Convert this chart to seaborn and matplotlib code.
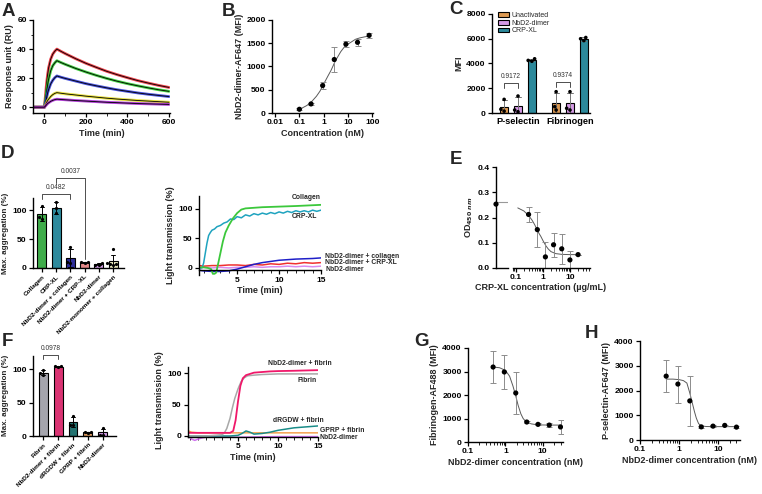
import numpy as np
import pandas as pd
import matplotlib
matplotlib.use('Agg')
import matplotlib.pyplot as plt
import seaborn as sns
from matplotlib.ticker import LogLocator, NullFormatter, MultipleLocator

# ---------------- DATA ----------------
# A: SPR sensorgrams
t_spr = [-55, -20, 0, 5, 10, 15, 20, 30, 40, 50, 60, 80, 100, 150, 200, 250, 300, 350, 400, 450, 500, 550, 600]
spr_red = [0, 0, 0, 8, 16, 22, 27, 33, 36.5, 38.5, 40, 38.4, 36.9, 33.4, 30.2, 27.4, 24.7, 22.4, 20.3, 18.3, 16.6, 15.0, 13.6]
spr_green = [0, 0, 0, 5, 10, 15, 19, 25, 28.5, 30.5, 32, 30.7, 29.5, 26.7, 24.2, 21.9, 19.8, 17.9, 16.2, 14.7, 13.3, 12.0, 10.9]
spr_blue = [0, 0, 0, 3, 6, 9.5, 12, 16, 18.5, 20.3, 21.5, 20.6, 19.8, 18.0, 16.2, 14.7, 13.3, 12.0, 10.9, 9.8, 8.9, 8.1, 7.3]
spr_yellow = [0, 0, 0, 1.5, 3, 4.5, 5.5, 7.3, 8.6, 9.5, 10, 9.6, 9.2, 8.4, 7.6, 6.9, 6.2, 5.6, 5.1, 4.6, 4.2, 3.8, 3.4]
spr_purple = [0, 0, 0, 0.8, 1.6, 2.4, 3, 4, 4.7, 5.2, 5.5, 5.3, 5.1, 4.6, 4.2, 3.8, 3.4, 3.1, 2.8, 2.5, 2.3, 2.1, 1.9]
spr_colors = ['#E8202A', '#22C822', '#2A35D8', '#E2DA1E', '#A51FD0']

# B: binding curve
b_conc = [0.1, 0.3, 0.9, 2.7, 8.1, 24.3, 72.9]
b_mfi = [80, 195, 590, 1150, 1480, 1520, 1670]
b_sd = [20, 20, 70, 260, 60, 70, 50]
b_fit_x = [0.1, 0.2, 0.3, 0.5, 0.7, 1, 1.5, 2, 3, 5, 7, 10, 20, 30, 50, 80]
b_fit_y = [76, 160, 230, 360, 470, 627, 800, 920, 1122, 1320, 1420, 1483, 1585, 1615, 1640, 1655]

# C: grouped bars (MFI)
c_markers = ['P-selectin', 'Fibrinogen']
c_conds = ['Unactivated', 'NbD2-dimer', 'CRP-XL']
c_colors = ['#F39A3B', '#DB8CF2', '#1996AE']
c_psel_unact = [1100, 300, 150]
c_psel_dimer = [1370, 240, 100]
c_psel_crp = [4380, 4250, 4180]
c_fib_unact = [1720, 510, 240]
c_fib_dimer = [1720, 380, 240]
c_fib_crp = [6100, 6000, 5850]
c_pvals = ['0.9172', '0.9374']
c_brk_y = [2400, 2530]

# D: aggregation bars
d_conds = ['Collagen', 'CRP-XL', 'NbD2-dimer + collagen', 'NbD2-dimer + CRP-XL', 'NbD2-dimer', 'NbD2-monomer + collagen']
d_colors = ['#2DBE3C', '#1A97B0', '#1C1CA8', '#F07878', '#D890F0', '#F2F0B8']
d_reps = [[107, 88, 85], [114, 103, 94], [36, 10, 8], [11, 9, 10], [9, 6, 6], [32, 8, 7, 6, 7]]
d_pairs = [(0, 2, 127, 119, 119, '0.0482'), (1, 3, 155, 146, 15, '0.0037')]

# D: aggregation traces
dt_green_t = [0.5, 1.0, 1.5, 1.9, 2.1, 2.3, 2.5, 2.7, 3.0, 3.3, 3.6, 4.0, 4.5, 5.0, 5.5, 6.0, 7.0, 8.0, 10, 12, 15]
dt_green = [1, 1, 0, -2, -10, -10, -8, 5, 25, 45, 60, 72, 84, 93, 99, 101, 102, 103, 104, 105, 107]
dt_teal_t = [0.5, 0.8, 1.0, 1.2, 1.4, 1.6, 1.8, 2.0, 2.3, 2.6, 3.0, 3.4, 3.8, 4.2, 4.6, 5.0, 5.5, 6.0, 6.5, 7.0, 7.5, 8.0, 8.5, 9.0, 9.5, 10, 10.5, 11, 11.5, 12, 12.5, 13, 13.5, 14, 14.5, 15]
dt_teal = [0, 0, 8, 25, 42, 55, 60, 64, 66, 70, 72, 76, 78, 83, 82, 87, 85, 90, 88, 92, 90, 93, 91, 94, 92, 95, 93, 96, 94, 97, 95, 97, 95, 98, 96, 98]
dt_t = [0.5, 1, 2, 3, 4, 5, 6, 7, 8, 9, 10, 11, 12, 13, 14, 15]
dt_blue = [-4, -5, -6, -6, -5, -2, 2, 6, 9, 11, 13, 14, 15, 15.5, 16, 17]
dt_red = [4, 3, 4, 4, 5, 5, 4, 6, 5, 7, 6, 8, 7, 9, 8, 9]
dt_violet = [0, 1, 0, 1, 0, 1, 1, 2, 1, 2, 2, 3, 2, 3, 2, 3]
dt_labels = ['Collagen', 'CRP-XL', 'NbD2-dimer + collagen', 'NbD2-dimer + CRP-XL', 'NbD2-dimer']
dt_lab_x = [11.5, 11.5, 15.5, 15.5, 15.5]
dt_lab_y = [119, 87, 20, 10, -2]

# E: inhibition ELISA
e_zero = 0.253
e_top = 0.26
e_conc = [0.3, 0.63, 1.25, 2.5, 5, 10, 20]
e_od = [0.212, 0.152, 0.044, 0.092, 0.076, 0.032, 0.053]
e_sd = [0.03, 0.07, 0.06, 0.047, 0.06, 0.037, 0.0]
e_fit_x = [0.12, 0.2, 0.3, 0.4, 0.5, 0.6, 0.7, 0.85, 1.0, 1.3, 1.6, 2.0, 3.0, 5, 10, 20]
e_fit_y = [0.238, 0.226, 0.208, 0.19, 0.172, 0.155, 0.14, 0.125, 0.11, 0.088, 0.075, 0.065, 0.057, 0.054, 0.053, 0.053]

# F: aggregation bars
f_conds = ['Fibrin', 'NbD2-dimer + fibrin', 'dRGDW + fibrin', 'GPRP + fibrin', 'NbD2-dimer']
f_colors = ['#A4A4AE', '#F5196C', '#17807E', '#F49A4A', '#D98BF0']
f_reps = [[98, 94, 91], [104, 103, 104], [30, 17, 16], [6, 4, 6], [12, 2, 2]]
f_pairs = [(0, 1, 121, 115, 115, '0.0978')]

# F: aggregation traces
ft_gray_t = [-1.2, 0, 1, 2, 3, 3.3, 3.6, 4.0, 4.3, 4.6, 5.0, 5.4, 5.8, 6.2, 7, 8, 10, 12, 15]
ft_gray = [0, 0, 0, 1, 2, 5, 12, 28, 45, 60, 75, 87, 93, 96, 97, 98, 99, 99, 99]
ft_pink_t = [-1.2, 0, 2, 4, 4.4, 4.7, 5.0, 5.3, 5.6, 6.0, 6.5, 7, 8, 9, 10, 12, 15]
ft_pink = [5, 5, 5, 5, 8, 25, 55, 80, 92, 97, 99, 101, 102, 103, 103.5, 104, 105]
ft_teal_t = [-1.2, 0, 2, 4, 5, 5.5, 6, 6.5, 7, 8, 9, 10, 11, 12, 13, 14, 15]
ft_teal = [0, 0, 0, 0, 1, 4, 8, 6, 3, 4, 6, 9, 11, 13, 14, 15, 16]
ft_orange_t = [-1.2, -0.8, 0, 2, 5, 10, 15]
ft_orange = [8, 6, 5, 5, 5, 5, 5]
ft_violet_t = [-1.2, -0.8, -0.4, 0, 0.5, 1, 2, 5, 10, 15]
ft_violet = [0, -5, -7, -5, -3, -2, -2, -2, -1, -1]
ft_labels = ['NbD2-dimer + fibrin', 'Fibrin', 'dRGDW + fibrin', 'GPRP + fibrin', 'NbD2-dimer']
ft_lab_x = [12.75, 13.6, 12.6, 15.25, 15.25]
ft_lab_y = [115, 89, 24, 8, -2]

# G / H: dose inhibition
gh_conc = [0.47, 0.94, 1.9, 3.75, 7.5, 15, 30]
g_mfi = [3190, 2980, 2085, 850, 750, 720, 640]
g_sd = [700, 720, 900, 60, 40, 90, 280]
g_fit_x = [0.47, 0.7, 1.0, 1.3, 1.6, 1.9, 2.2, 2.6, 3.0, 3.5, 4, 5, 7, 10, 15, 30]
g_fit_y = [3190, 3160, 3050, 2800, 2380, 1960, 1560, 1200, 1000, 880, 820, 770, 735, 725, 720, 720]
h_mfi = [2580, 2260, 1580, 530, 560, 590, 520]
h_sd = [640, 750, 1010, 40, 30, 30, 30]
h_fit_x = [0.47, 0.7, 1.0, 1.3, 1.6, 1.9, 2.2, 2.5, 2.8, 3.2, 3.75, 5, 7, 10, 15, 30]
h_fit_y = [2460, 2460, 2440, 2400, 2300, 1900, 1500, 1150, 880, 660, 570, 545, 540, 540, 540, 540]

# ---------------- STYLE ----------------
sns.set_theme(style='ticks')
plt.rcParams['font.family'] = ['Liberation Sans', 'DejaVu Sans']
plt.rcParams['font.weight'] = 'bold'
plt.rcParams['axes.labelweight'] = 'bold'
plt.rcParams['axes.linewidth'] = 1.0
plt.rcParams['axes.edgecolor'] = 'black'
plt.rcParams['xtick.color'] = 'black'
plt.rcParams['ytick.color'] = 'black'

W, H = 762, 494
fig = plt.figure(figsize=(W / 100, H / 100), dpi=100)


def axp(l, t, r, b):
    return fig.add_axes([l / W, 1 - b / H, (r - l) / W, (b - t) / H])


TICK = 6.1
LAB = 6.5
CURVE_LAB = 4.9


def prism(ax):
    sns.despine(ax=ax)
    ax.tick_params(axis='both', which='major', length=3, width=0.9, labelsize=TICK, pad=1.5)
    ax.tick_params(axis='both', which='minor', length=1.8, width=0.6)
    ax.xaxis.label.set_size(LAB)
    ax.yaxis.label.set_size(LAB)
    ax.xaxis.labelpad = 2
    ax.yaxis.labelpad = 2


def logx(ax, ticks, labels):
    ax.set_xscale('log')
    ax.set_xticks(ticks, labels=labels)
    ax.xaxis.set_minor_locator(LogLocator(base=10, subs=np.arange(2, 10)))
    ax.xaxis.set_minor_formatter(NullFormatter())


def bracket(ax, x1, x2, y, yl, yr, text, pad):
    ax.plot([x1, x1, x2, x2], [yl, y, y, yr], color='0.3', lw=0.7, clip_on=False)
    ax.text((x1 + x2) / 2, y + pad, text, ha='center', va='bottom', fontsize=4.8, fontweight='normal', color='0.2')


def letter(x, y, s):
    fig.text(x / W, 1 - y / H, s, ha='center', va='center', fontsize=13.5, fontweight='bold')


# ---------------- A ----------------
axA = axp(33, 20, 170, 113)
for ys, c in zip([spr_red, spr_green, spr_blue, spr_yellow, spr_purple], spr_colors):
    sns.lineplot(x=t_spr, y=ys, color=c, lw=2.0, alpha=0.85, ax=axA)
    sns.lineplot(x=t_spr, y=ys, color='black', lw=0.6, ax=axA)
axA.set(xlim=(-55, 605), ylim=(-4, 60), xticks=[0, 200, 400, 600], yticks=[0, 20, 40, 60])
axA.xaxis.set_minor_locator(MultipleLocator(100))
axA.yaxis.set_minor_locator(MultipleLocator(10))
axA.set_xlabel('Time (min)')
axA.set_ylabel('Response unit (RU)')
prism(axA)

# ---------------- B ----------------
axB = axp(272, 20, 373, 113)
sns.lineplot(x=b_fit_x, y=b_fit_y, color='0.35', lw=0.7, ax=axB)
axB.errorbar(b_conc, b_mfi, yerr=b_sd, fmt='none', ecolor='0.55', elinewidth=0.7, capsize=2, capthick=0.7)
sns.scatterplot(x=b_conc, y=b_mfi, color='black', s=14, edgecolor='none', ax=axB, zorder=5)
logx(axB, [0.01, 0.1, 1, 10, 100], ['0.01', '0.1', '1', '10', '100'])
axB.set(xlim=(0.0075, 105), ylim=(0, 2000), yticks=[0, 500, 1000, 1500, 2000])
axB.set_xlabel('Concentration (nM)')
axB.set_ylabel('NbD2-dimer-AF647 (MFI)')
prism(axB)

# ---------------- C ----------------
rows = []
for m, reps_by_cond in zip(c_markers, [[c_psel_unact, c_psel_dimer, c_psel_crp], [c_fib_unact, c_fib_dimer, c_fib_crp]]):
    for cond, reps in zip(c_conds, reps_by_cond):
        for v in reps:
            rows.append((m, cond, v))
dfC = pd.DataFrame(rows, columns=['marker', 'cond', 'mfi'])
axC = axp(492, 14, 590, 113)
sns.barplot(data=dfC, x='marker', y='mfi', hue='cond', order=c_markers, hue_order=c_conds,
            palette=c_colors, errorbar='sd', capsize=0.3, gap=0.4, edgecolor='black', linewidth=0.8,
            err_kws={'color': '0.45', 'linewidth': 0.7}, ax=axC)
sns.swarmplot(data=dfC, x='marker', y='mfi', hue='cond', order=c_markers, hue_order=c_conds,
              palette={c: 'black' for c in c_conds}, dodge=True, size=2.6, legend=False, ax=axC)
hdl, lbl = axC.get_legend_handles_labels()
leg = axC.legend(hdl[:3], lbl[:3], loc='upper left', bbox_to_anchor=(0.06, 1.02), frameon=False,
                 fontsize=5, handlelength=1.6, handleheight=0.7,
                 labelspacing=0.1, borderaxespad=0, handletextpad=0.4, borderpad=0)
for tx in leg.get_texts():
    tx.set_fontsize(5)
    tx.set_fontweight('normal')
step = 0.8 / 3
for gi, (pv, by) in enumerate(zip(c_pvals, c_brk_y)):
    bracket(axC, gi - step, gi, by, by - 400, by - 400, pv, 230)
axC.set(xlim=(-0.5, 1.385), ylim=(0, 8000), yticks=[0, 2000, 4000, 6000, 8000], xlabel='', ylabel='MFI')
prism(axC)
axC.tick_params(axis='x', labelsize=6.6, length=0, pad=3)

# ---------------- D bars ----------------
dfD = pd.DataFrame([(c, v) for c, reps in zip(d_conds, d_reps) for v in reps], columns=['cond', 'val'])
axDb = axp(33, 198.4, 124, 268)
sns.barplot(data=dfD, x='cond', y='val', hue='cond', order=d_conds, hue_order=d_conds, palette=d_colors,
            legend=False, errorbar='sd', capsize=0.3, width=0.63, edgecolor='black', linewidth=0.8,
            err_kws={'color': 'black', 'linewidth': 0.7}, ax=axDb)
sns.swarmplot(data=dfD, x='cond', y='val', order=d_conds, color='black', size=2.3, ax=axDb)
for i, j, y, yl, yr, pv in d_pairs:
    bracket(axDb, i, j, y, yl, yr, pv, 5)
axDb.set(xlim=(-0.63, 5.77), ylim=(0, 120), yticks=[0, 50, 100], xlabel='', ylabel='Max. aggregation (%)')
prism(axDb)
axDb.yaxis.label.set_size(5.8)
axDb.set_xticks(range(len(d_conds)), labels=d_conds, rotation=45, ha='right', rotation_mode='anchor', fontsize=4.6)

# ---------------- D traces ----------------
axDt = axp(199, 196, 321, 275)
sns.lineplot(x=dt_t, y=dt_violet, color='#D88AF0', lw=1.1, ax=axDt)
sns.lineplot(x=dt_t, y=dt_red, color='#F03030', lw=1.1, ax=axDt)
sns.lineplot(x=dt_t, y=dt_blue, color='#1F1FC8', lw=1.1, ax=axDt)
sns.lineplot(x=dt_teal_t, y=dt_teal, color='#1FA3BF', lw=1.1, ax=axDt)
sns.lineplot(x=dt_green_t, y=dt_green, color='#3CC83C', lw=1.3, ax=axDt)
for s, x, y in zip(dt_labels, dt_lab_x, dt_lab_y):
    axDt.text(x, y, s, fontsize=CURVE_LAB, ha='left', va='center')
axDt.set(xlim=(0.45, 15), ylim=(-12, 122), xticks=[5, 10, 15], yticks=[0, 50, 100])
axDt.xaxis.set_minor_locator(MultipleLocator(1))
axDt.spines['bottom'].set_position(('data', -4))
axDt.set_xlabel('Time (min)')
axDt.set_ylabel('Light transmission (%)')
prism(axDt)

# ---------------- E ----------------
axE0 = axp(496, 167, 508, 268)
axE0.axhline(e_top, color='0.6', lw=0.8)
sns.scatterplot(x=[0], y=[e_zero], color='black', s=14, edgecolor='none', ax=axE0, clip_on=False, zorder=5)
axE0.set(xlim=(0, 1), ylim=(0, 0.4), xticks=[], yticks=[0, 0.1, 0.2, 0.3, 0.4])
axE0.set_yticklabels(['0.0', '0.1', '0.2', '0.3', '0.4'])
axE0.set_ylabel('OD$_{450\\ nm}$')
prism(axE0)
axE = axp(513, 167, 590, 268)
sns.lineplot(x=e_fit_x, y=e_fit_y, color='0.35', lw=0.7, ax=axE)
axE.errorbar(e_conc, e_od, yerr=e_sd, fmt='none', ecolor='0.55', elinewidth=0.7, capsize=2, capthick=0.7)
sns.scatterplot(x=e_conc, y=e_od, color='black', s=14, edgecolor='none', ax=axE, zorder=5)
logx(axE, [0.1, 1, 10], ['0.1', '1', '10'])
axE.set(xlim=(0.08, 55), ylim=(0, 0.4), yticks=[])
prism(axE)
axE.spines['left'].set_visible(False)
fig.text(541 / W, 1 - 288 / H, 'CRP-XL concentration (µg/mL)', ha='center', va='center', fontsize=LAB, fontweight='bold')

# ---------------- F bars ----------------
dfF = pd.DataFrame([(c, v) for c, reps in zip(f_conds, f_reps) for v in reps], columns=['cond', 'val'])
axFb = axp(33, 355.6, 116, 436)
sns.barplot(data=dfF, x='cond', y='val', hue='cond', order=f_conds, hue_order=f_conds, palette=f_colors,
            legend=False, errorbar='sd', capsize=0.3, width=0.6, edgecolor='black', linewidth=0.8,
            err_kws={'color': 'black', 'linewidth': 0.7}, ax=axFb)
sns.swarmplot(data=dfF, x='cond', y='val', order=f_conds, color='black', size=2.3, ax=axFb)
for i, j, y, yl, yr, pv in f_pairs:
    bracket(axFb, i, j, y, yl, yr, pv, 5)
axFb.set(xlim=(-0.67, 4.87), ylim=(0, 120), yticks=[0, 50, 100], xlabel='', ylabel='Max. aggregation (%)')
prism(axFb)
axFb.yaxis.label.set_size(5.8)
axFb.set_xticks(range(len(f_conds)), labels=f_conds, rotation=45, ha='right', rotation_mode='anchor', fontsize=4.6)

# ---------------- F traces ----------------
axFt = axp(188, 357.6, 318, 443.5)
sns.lineplot(x=ft_orange_t, y=ft_orange, color='#F5A050', lw=1.1, ax=axFt)
sns.lineplot(x=ft_violet_t, y=ft_violet, color='#D070F0', lw=1.1, ax=axFt)
sns.lineplot(x=ft_teal_t, y=ft_teal, color='#1A8C88', lw=1.1, ax=axFt)
sns.lineplot(x=ft_gray_t, y=ft_gray, color='#A8A8A8', lw=1.1, ax=axFt)
sns.lineplot(x=ft_pink_t, y=ft_pink, color='#F0186A', lw=1.3, ax=axFt)
for k, (s, x, y) in enumerate(zip(ft_labels, ft_lab_x, ft_lab_y)):
    axFt.text(x, y, s, fontsize=CURVE_LAB, ha='center' if k < 3 else 'left', va='center')
axFt.set(xlim=(-1.25, 15), ylim=(-12, 125), xticks=[5, 10, 15], yticks=[0, 50, 100])
axFt.xaxis.set_minor_locator(MultipleLocator(1))
axFt.spines['bottom'].set_position(('data', -2))
axFt.spines['left'].set_bounds(-2, 110)
axFt.set_xlabel('Time (min)')
axFt.set_ylabel('Light transmission (%)')
prism(axFt)

# ---------------- G ----------------
axG = axp(468, 348, 563, 442)
sns.lineplot(x=g_fit_x, y=g_fit_y, color='0.35', lw=0.7, ax=axG)
axG.errorbar(gh_conc, g_mfi, yerr=g_sd, fmt='none', ecolor='0.55', elinewidth=0.7, capsize=2, capthick=0.7)
sns.scatterplot(x=gh_conc, y=g_mfi, color='black', s=14, edgecolor='none', ax=axG, zorder=5)
logx(axG, [0.1, 1, 10], ['0.1', '1', '10'])
axG.set(xlim=(0.1, 35), ylim=(0, 4000), yticks=[0, 1000, 2000, 3000, 4000])
axG.set_xlabel('NbD2-dimer concentration (nM)')
axG.set_ylabel('Fibrinogen-AF488 (MFI)')
prism(axG)

# ---------------- H ----------------
axH = axp(640, 341, 740, 440)
sns.lineplot(x=h_fit_x, y=h_fit_y, color='0.35', lw=0.7, ax=axH)
axH.errorbar(gh_conc, h_mfi, yerr=h_sd, fmt='none', ecolor='0.55', elinewidth=0.7, capsize=2, capthick=0.7)
sns.scatterplot(x=gh_conc, y=h_mfi, color='black', s=14, edgecolor='none', ax=axH, zorder=5)
logx(axH, [0.1, 1, 10], ['0.1', '1', '10'])
axH.set(xlim=(0.1, 37), ylim=(0, 4000), yticks=[0, 1000, 2000, 3000, 4000])
axH.set_xlabel('NbD2-dimer concentration (nM)')
axH.set_ylabel('P-selectin-AF647 (MFI)')
prism(axH)

# ---------------- panel letters ----------------
for s, x, y in [('A', 8, 11), ('B', 228, 11), ('C', 456, 10), ('D', 8, 153), ('E', 456, 159),
                ('F', 7, 341), ('G', 421, 341), ('H', 592, 333)]:
    letter(x, y, s)

fig.savefig('out.png', dpi=100)
